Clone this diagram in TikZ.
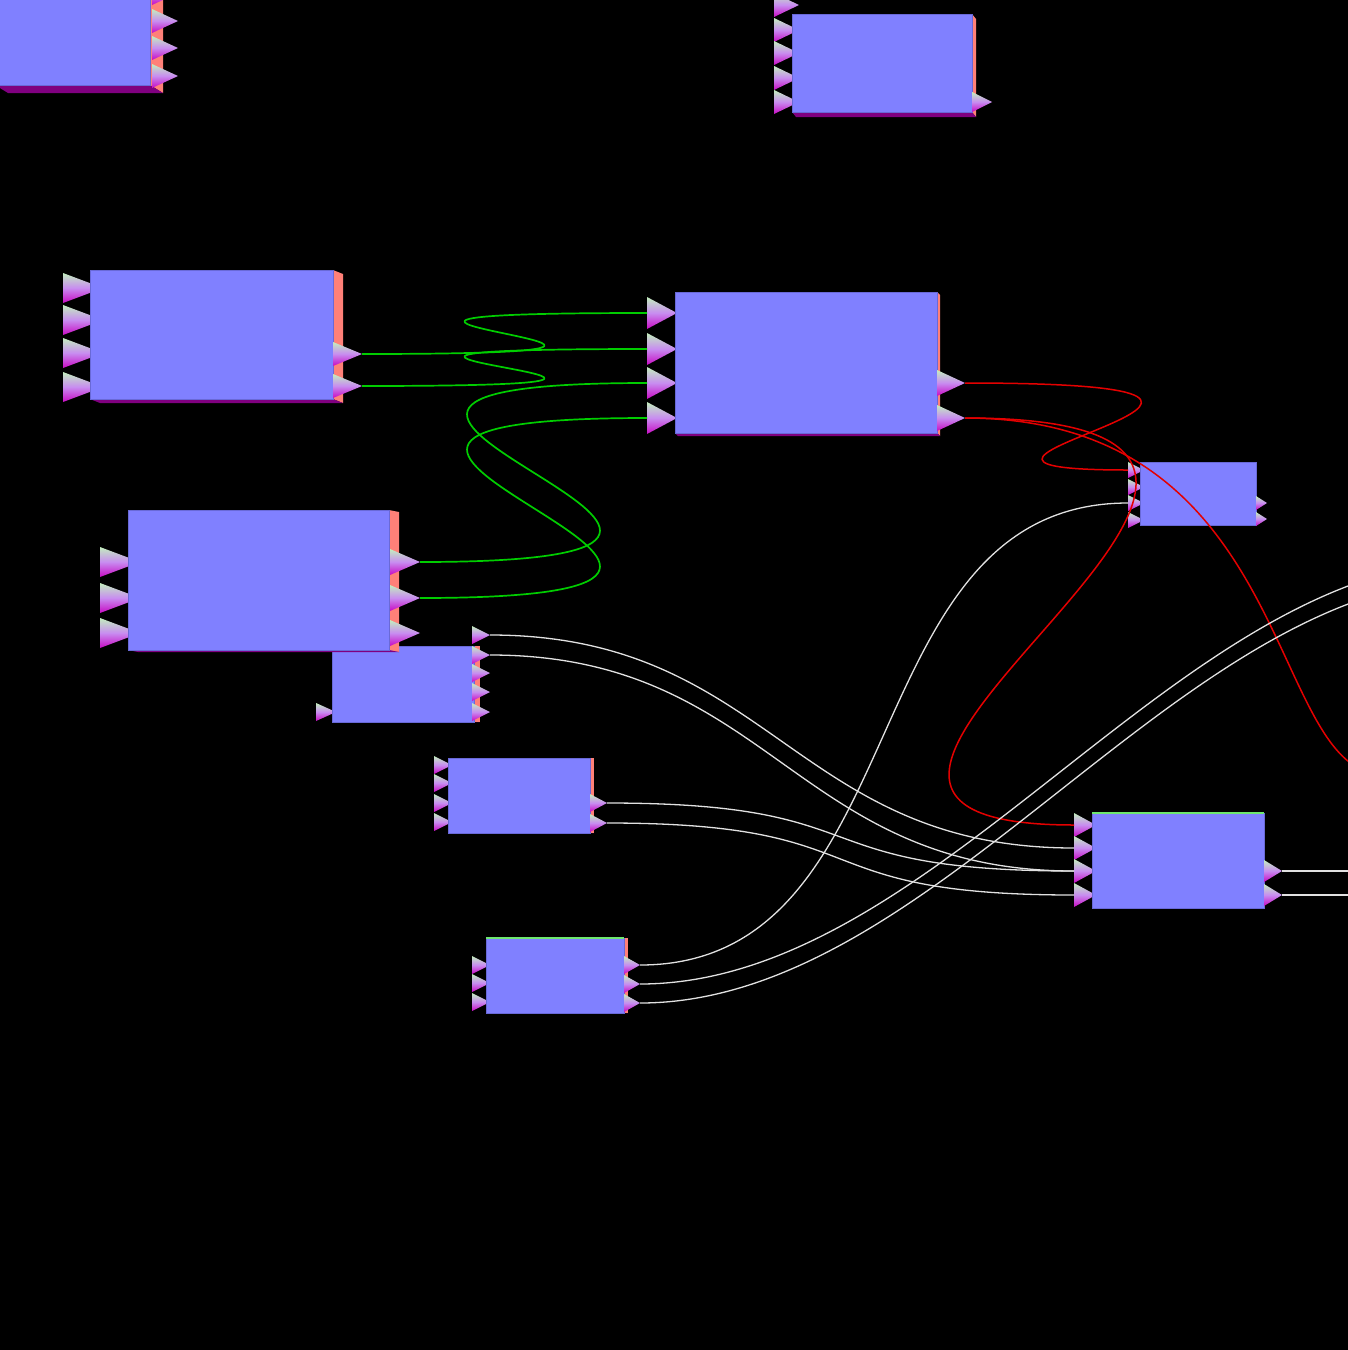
\documentclass[tikz,border=0pt]{standalone}
\usetikzlibrary{fit}
\definecolor{boxblue}{RGB}{128,128,255}
\definecolor{boxedge}{RGB}{105,105,215}
\definecolor{salmon}{RGB}{255,128,120}
\definecolor{purp}{RGB}{128,0,128}
\definecolor{wgreen}{RGB}{0,205,0}
\definecolor{wred}{RGB}{228,0,0}
\definecolor{wwhite}{RGB}{225,225,225}
\definecolor{ptop}{RGB}{195,238,190}
\definecolor{pmid}{RGB}{200,140,240}
\definecolor{pbot}{RGB}{200,10,195}
\definecolor{topgreen}{RGB}{110,230,110}
\tikzset{
  box/.style={fill=boxblue, draw=boxedge, line width=0.6pt, inner sep=0pt, outer sep=0pt},
  portshade/.style={top color=ptop, bottom color=pbot, middle color=pmid},
  gline/.style={draw=wgreen, line width=1.7pt, line join=round},
  rline/.style={draw=wred, line width=1.5pt, line join=round},
  wline/.style={draw=wwhite, line width=1.3pt, line join=round},
  greentop/.style={draw=topgreen, line width=1.6pt}
}
% name, xbase, y, half height, width
\newcommand\portin[5]{%
  \shade[portshade] (#2,#3-#4) -- (#2+#5,#3) -- (#2,#3+#4) -- cycle;
  \coordinate (#1) at (#2,#3);}
\newcommand\portout[5]{%
  \shade[portshade] (#2,#3-#4) -- (#2+#5,#3) -- (#2,#3+#4) -- cycle;
  \coordinate (#1) at (#2+#5,#3);}
% name, x1, y1, x2, y2, dx, dy
\newcommand\slab[7]{%
  \fill[salmon] (#4,#3) -- (#4+#6,#3+#7) -- (#4+#6,#5+#7) -- (#4,#5) -- cycle;
  \fill[purp] (#2,#5) -- (#4,#5) -- (#4+#6,#5+#7) -- (#2+#6,#5+#7) -- cycle;
  \node[box, fit={(#2,#3) (#4,#5)}] (#1) {};}
\begin{document}
\begin{tikzpicture}[x=1pt,y=-1pt]
\useasboundingbox (0,0) rectangle (1348,1350);
\fill[black] (0,0) rectangle (1348,1350);
\clip (0,0) rectangle (1348,1350);

% ---- box A (top left, cut off)
\slab{A}{-5}{-10}{150}{85}{13}{8}
\portout{Ao0}{152}{-7}{12}{26}
\portout{Ao1}{152}{21}{12}{26}
\portout{Ao2}{152}{48}{12}{26}
\portout{Ao3}{152}{76}{12}{26}

% ---- box B (top)
\portin{Bi1}{774}{5}{12}{25}
\portin{Bi2}{774}{30}{12}{25}
\portin{Bi3}{774}{53}{12}{25}
\portin{Bi4}{774}{78}{12}{25}
\portin{Bi5}{774}{102}{12}{25}
\slab{B}{792}{14}{972}{112}{4}{5}
\portout{Bo1}{972}{102}{10}{20}

% ---- box C
\portin{Ci1}{63}{288}{15}{40}
\portin{Ci2}{63}{320}{15}{40}
\portin{Ci3}{63}{353}{15}{40}
\portin{Ci4}{63}{387}{15}{40}
\slab{C}{90}{270}{333}{399}{10}{4}
\portout{Co1}{333}{354}{12}{29}
\portout{Co2}{333}{386}{12}{29}

% ---- box D
\portin{Di1}{647}{313}{16}{30}
\portin{Di2}{647}{349}{16}{30}
\portin{Di3}{647}{383}{16}{30}
\portin{Di4}{647}{418}{16}{30}
\slab{D}{675}{292}{937}{433}{3}{3}
\portout{Do1}{937}{383}{13}{28}
\portout{Do2}{937}{418}{13}{28}

% ---- box F (under E)
\portin{Fi1}{316}{712}{9}{20}
\slab{F}{332}{646}{474}{722}{6}{0}
\portout{Fo1}{472}{635}{9}{18}
\portout{Fo2}{472}{655}{9}{18}
\portout{Fo3}{472}{673}{9}{18}
\portout{Fo4}{472}{692}{9}{18}
\portout{Fo5}{472}{712}{9}{18}

% ---- box E
\portin{Ei1}{100}{562}{15}{40}
\portin{Ei2}{100}{598}{15}{40}
\portin{Ei3}{100}{633}{15}{40}
\slab{E}{128}{510}{389}{650}{10}{2}
\portout{Eo1}{390}{562}{13}{30}
\portout{Eo2}{390}{598}{13}{30}
\portout{Eo3}{390}{633}{13}{30}

% ---- box G
\portin{Gi1}{434}{765}{9}{18}
\portin{Gi2}{434}{783}{9}{18}
\portin{Gi3}{434}{803}{9}{18}
\portin{Gi4}{434}{822}{9}{18}
\slab{G}{448}{758}{590}{833}{4}{0}
\portout{Go1}{590}{803}{9}{17}
\portout{Go2}{590}{823}{9}{17}

% ---- box H
\portin{Hi1}{472}{965}{9}{18}
\portin{Hi2}{472}{983}{9}{18}
\portin{Hi3}{472}{1002}{9}{18}
\slab{H}{486}{938}{624}{1013}{4}{0}
\draw[greentop] (H.north west) -- (H.north east);
\portout{Ho1}{624}{965}{9}{16}
\portout{Ho2}{624}{984}{9}{16}
\portout{Ho3}{624}{1003}{9}{16}

% ---- box I
\portin{Ii1}{1128}{470}{8}{16}
\portin{Ii2}{1128}{487}{8}{16}
\portin{Ii3}{1128}{503}{8}{16}
\portin{Ii4}{1128}{520}{8}{16}
\slab{I}{1140}{462}{1256}{525}{0}{0}
\portout{Io1}{1256}{503}{7}{11}
\portout{Io2}{1256}{519}{7}{11}

% ---- box J
\portin{Ji1}{1074}{825}{12}{22}
\portin{Ji2}{1074}{848}{12}{22}
\portin{Ji3}{1074}{871}{12}{22}
\portin{Ji4}{1074}{895}{12}{22}
\slab{J}{1092}{813}{1264}{908}{0}{0}
\draw[greentop] (J.north west) -- (J.north east);
\portout{Jo1}{1264}{871}{11}{18}
\portout{Jo2}{1264}{895}{11}{18}

% ---- off-picture ends
\coordinate (offR) at (1385,775);
\coordinate (offH2) at (1480,560);
\coordinate (offH3) at (1480,578);
\coordinate (offJ1) at (1420,871);
\coordinate (offJ2) at (1420,895);

% ---- green connectors
\draw[gline] (Co1) .. controls +(480,0) and +(-480,0) .. (Di1);
\draw[gline] (Co2) .. controls +(480,0) and +(-480,0) .. (Di2);
\draw[gline] (Eo1) .. controls +(512,0) and +(-512,0) .. (Di3);
\draw[gline] (Eo2) .. controls +(512,0) and +(-512,0) .. (Di4);

% ---- red connectors
\draw[rline] (Do1) .. controls +(444,0) and +(-289,0) .. (Ii1);
\draw[rline] (Do2) .. controls +(505,0) and +(-420,0) .. (Ji1);
\draw[rline] (Do2) .. controls +(335,0) and +(-120,0) .. (offR);

% ---- white connectors
\draw[wline] (Fo1) .. controls +(280,0) and +(-280,0) .. (Ji2);
\draw[wline] (Fo2) .. controls +(280,0) and +(-280,0) .. (Ji3);
\draw[wline] (Go1) .. controls +(280,0) and +(-280,0) .. (Ji3);
\draw[wline] (Go2) .. controls +(280,0) and +(-280,0) .. (Ji4);
\draw[wline] (Ho1) .. controls +(280,0) and +(-280,0) .. (Ii3);
\draw[wline] (Ho2) .. controls +(300,0) and +(-300,0) .. (offH2);
\draw[wline] (Ho3) .. controls +(300,0) and +(-300,0) .. (offH3);
\draw[wline] (Jo1) -- (offJ1);
\draw[wline] (Jo2) -- (offJ2);
\end{tikzpicture}
\end{document}
